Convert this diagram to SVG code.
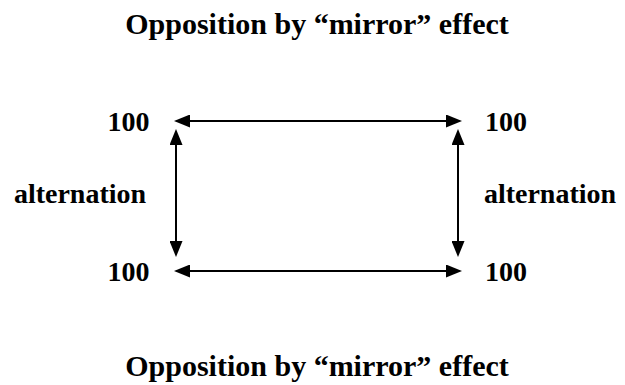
<svg xmlns="http://www.w3.org/2000/svg" width="625" height="385" viewBox="0 0 625 385">
  <style>
    .t { font-family: "Liberation Serif", "Times New Roman", serif; font-weight: bold; font-size: 28px; fill: #000; text-anchor: middle; }
    .h { font-size: 30px; }
    .c { stroke: #000; stroke-width: 2; fill: none; marker-start: url(#ah); marker-end: url(#ah); }
  </style>
  <defs>
    <marker id="ah" markerUnits="userSpaceOnUse" markerWidth="16" markerHeight="13" refX="6" refY="6.5" orient="auto-start-reverse" viewBox="0 0 16 13">
      <path d="M0,0 L16,6.5 L0,13 z" fill="#000"/>
    </marker>
  </defs>
  <rect width="625" height="385" fill="#fff"/>

  <text class="t h" x="317" y="34">Opposition by “mirror” effect</text>

  <g id="n-top-left"><text class="t" x="128.5" y="131">100</text></g>
  <g id="n-top-right"><text class="t" x="506" y="131">100</text></g>
  <g id="n-bottom-left"><text class="t" x="128.5" y="281">100</text></g>
  <g id="n-bottom-right"><text class="t" x="506" y="281">100</text></g>
  <g id="lbl-left"><text class="t" x="80" y="203">alternation</text></g>
  <g id="lbl-right"><text class="t" x="550" y="203">alternation</text></g>

  <g id="connectors">
    <line class="c" x1="184" y1="121" x2="452" y2="121"/>
    <line class="c" x1="184" y1="271" x2="452" y2="271"/>
    <line class="c" x1="176" y1="139" x2="176" y2="247"/>
    <line class="c" x1="458" y1="139" x2="458" y2="247"/>
  </g>

  <text class="t h" x="317" y="376">Opposition by “mirror” effect</text>
</svg>
